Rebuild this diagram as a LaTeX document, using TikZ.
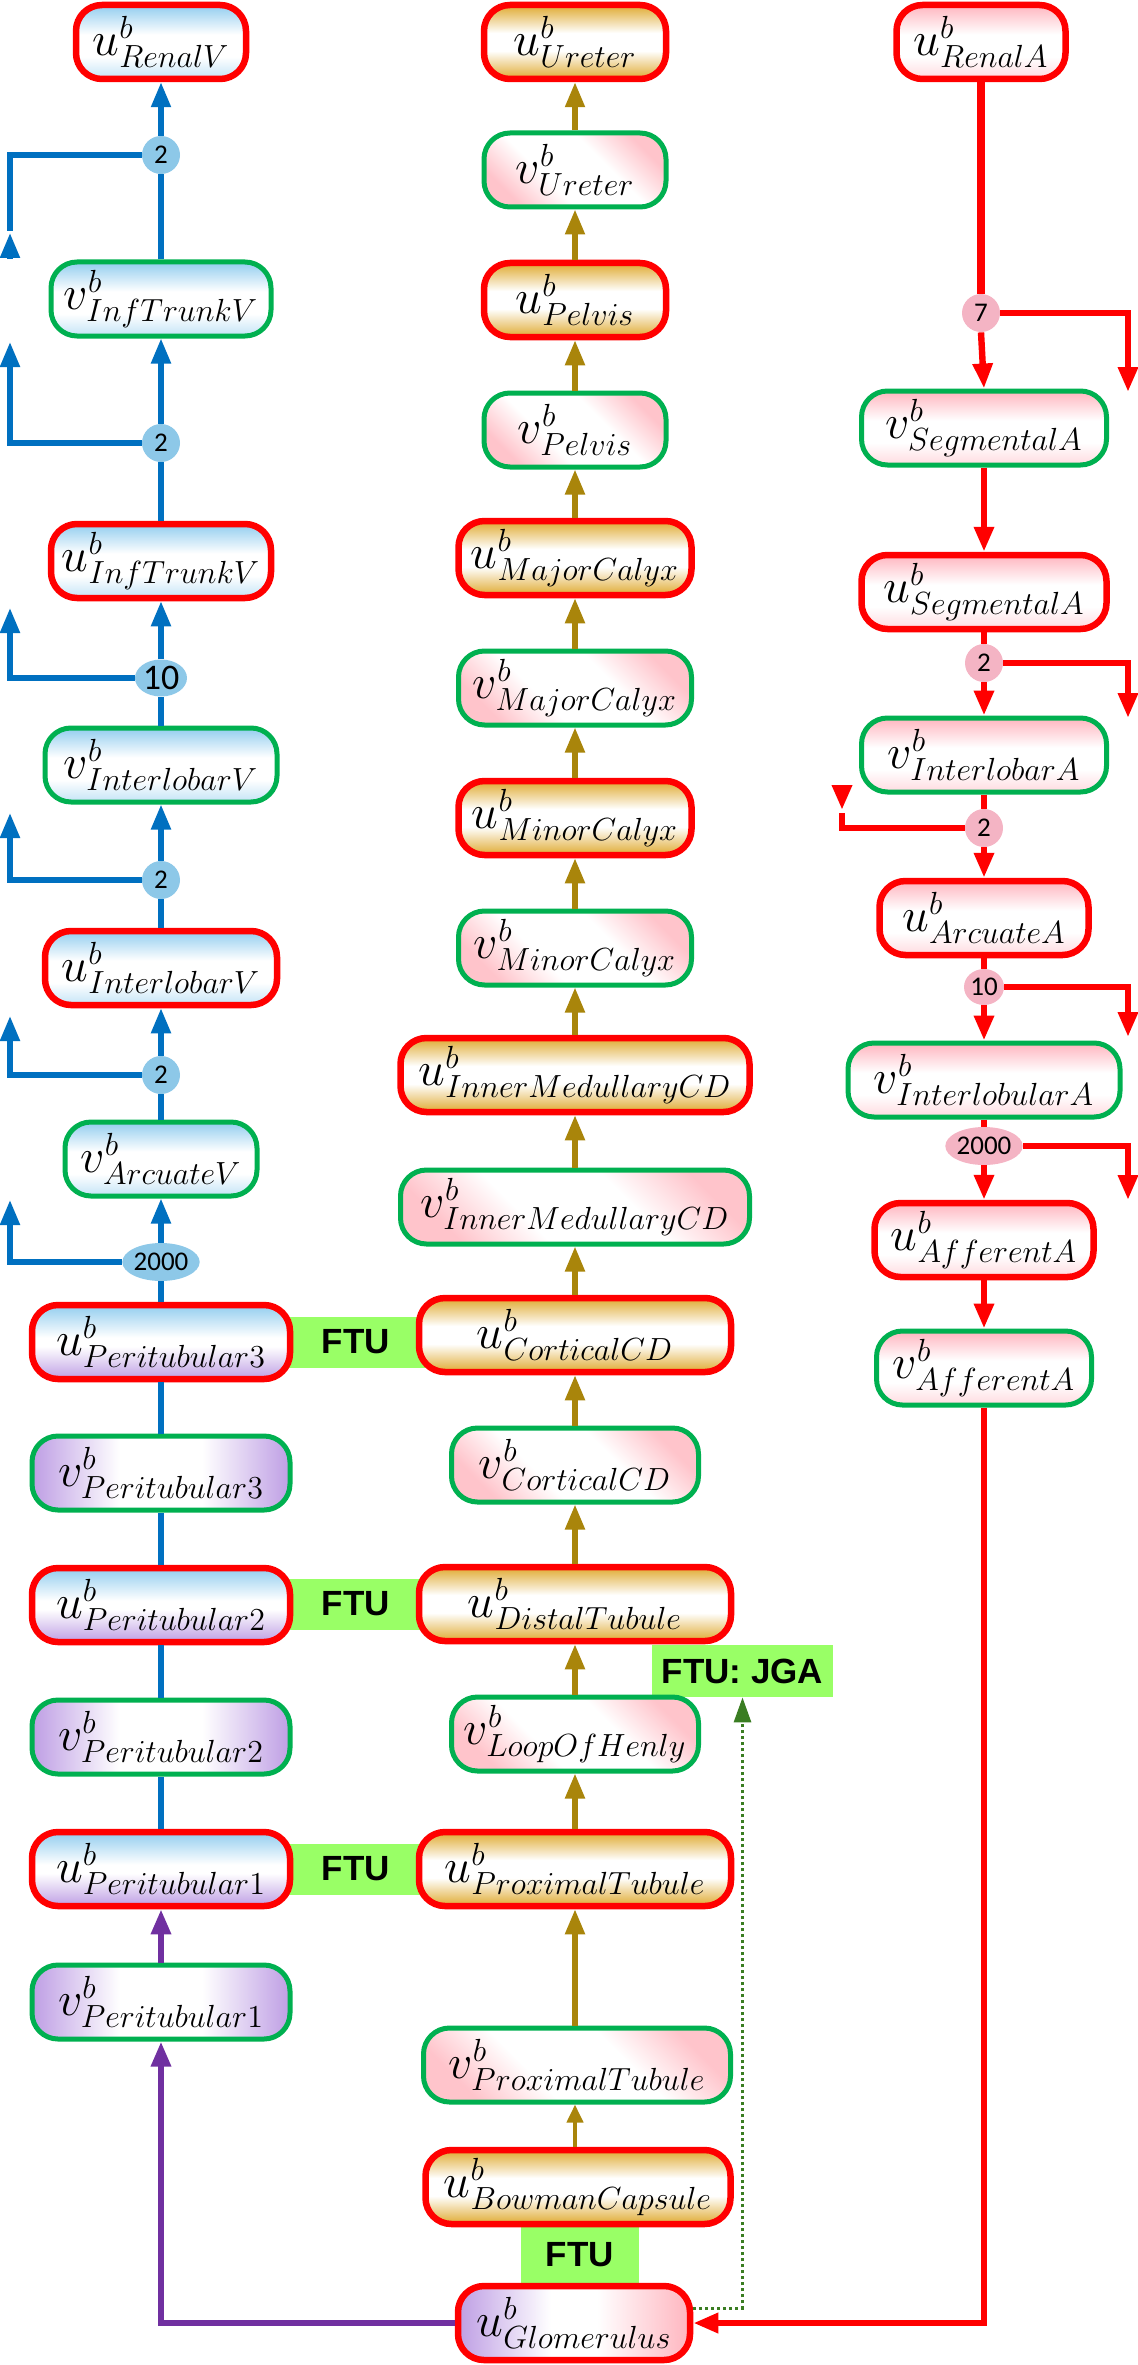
\RequirePackage{fix-cm}
\documentclass[tikz,border=0pt]{standalone}
\usepackage{fontspec}
\newfontfamily\carl{Carlito}
\newfontfamily\arialf{Liberation Sans}
\usetikzlibrary{shapes.geometric,arrows.meta}
\DeclareMathSizes{24}{24}{16}{12}
\definecolor{redc}{HTML}{FF0000}
\definecolor{greenc}{HTML}{00B050}
\definecolor{skyc}{HTML}{92CDEF}
\definecolor{jbluec}{HTML}{8DC8E8}
\definecolor{goldc}{HTML}{DFAA30}
\definecolor{goldl}{HTML}{A9850B}
\definecolor{purc}{HTML}{BE9EE4}
\definecolor{pinkc}{HTML}{FFB5BF}
\definecolor{pinkd}{HTML}{FFC4CB}
\definecolor{jpinkc}{HTML}{F4B4C4}
\definecolor{ftuc}{HTML}{99FF66}
\definecolor{bluec}{HTML}{0070C0}
\definecolor{purl}{HTML}{7030A0}
\definecolor{dgreen}{HTML}{3A7D22}
\pgfdeclareverticalshading{pinkdiag}{100bp}{color(0bp)=(pinkd); color(25bp)=(pinkd); color(40bp)=(white); color(60bp)=(white); color(75bp)=(pinkd); color(100bp)=(pinkd)}
\pgfdeclarehorizontalshading{purh}{100bp}{color(0bp)=(purc); color(25bp)=(purc); color(42bp)=(white); color(58bp)=(white); color(75bp)=(purc); color(100bp)=(purc)}
\pgfdeclarehorizontalshading{glomh}{100bp}{color(0bp)=(purc); color(25bp)=(purc); color(45bp)=(white); color(55bp)=(white); color(75bp)=(pinkc); color(100bp)=(pinkc)}
\pgfdeclareverticalshading{bluev}{100bp}{color(0bp)=(skyc!55); color(25bp)=(skyc!55); color(40bp)=(white); color(55bp)=(white); color(75bp)=(skyc); color(100bp)=(skyc)}
\pgfdeclareverticalshading{pinkv}{100bp}{color(0bp)=(pinkc!50); color(25bp)=(pinkc!50); color(40bp)=(white); color(55bp)=(white); color(75bp)=(pinkc); color(100bp)=(pinkc)}
\pgfdeclareverticalshading{periu}{100bp}{color(0bp)=(purc); color(25bp)=(purc); color(47bp)=(white); color(53bp)=(white); color(75bp)=(skyc); color(100bp)=(skyc)}
\pgfdeclareverticalshading{goldv}{100bp}{color(0bp)=(goldc); color(25bp)=(goldc); color(44bp)=(white); color(56bp)=(white); color(75bp)=(goldc); color(100bp)=(goldc)}
\newcommand{\labfs}{\fontsize{24}{28}\selectfont}
\newcommand{\junfs}{\carl\fontsize{13.5}{14}\selectfont}
\tikzset{
  box/.style={rounded corners=13pt, minimum height=37pt, inner sep=0pt, font=\labfs, text=black},
  ubox/.style={box, draw=redc, line width=3.25pt},
  vbox/.style={box, draw=greenc, line width=2.5pt},
  shblue/.style={shading=bluev},
  shgold/.style={shading=goldv},
  shpinkd/.style={shading=pinkdiag, shading angle=-45},
  shpinkv/.style={shading=pinkv},
  shperiu/.style={shading=periu},
  shperiv/.style={shading=purh},
  shglom/.style={shading=glomh},
  junb/.style={circle, fill=jbluec, inner sep=0pt, minimum size=19pt, font=\junfs},
  junr/.style={circle, fill=jpinkc, inner sep=0pt, minimum size=19pt, font=\junfs},
  ftu/.style={fill=ftuc, inner sep=0pt, font=\arialf\bfseries\fontsize{17.5}{18}\selectfont},
  tipA/.style={-{Triangle[width=9.5pt,length=12.5pt]}},
  bl/.style={draw=bluec, line width=2.6pt},
  bla/.style={bl, tipA},
  gla/.style={draw=goldl, line width=2.6pt, tipA},
  rl/.style={draw=redc, line width=3.2pt},
  rla/.style={rl, tipA},
  pla/.style={draw=purl, line width=3pt, tipA},
  dla/.style={draw=dgreen, line width=1.5pt, dash pattern=on 1.5pt off 1.5pt, -{Triangle[width=8.5pt,length=12.5pt]}}
}
\begin{document}
\begin{tikzpicture}[x=0.5pt,y=-0.5pt]
\useasboundingbox (0,0) rectangle (1138,2365);
% FTU bands (background)
\node[ftu, minimum width=70pt, minimum height=25.5pt] (f3) at (356,1342) {FTU};
\node[ftu, minimum width=70pt, minimum height=25.5pt] (f2) at (356,1604) {FTU};
\node[ftu, minimum width=70pt, minimum height=25.5pt] (f1) at (356,1869) {FTU};
\node[ftu, minimum width=90.5pt, minimum height=26pt] (jga) at (742.5,1671) {FTU: JGA};
\node[ftu, minimum width=59pt, minimum height=30pt] (fg) at (580,2255) {FTU};
% left column
\node[ubox, shblue, minimum width=85pt] (uRV) at (161,42) {$u^{b}_{RenalV}$};
\node[junb] (c1) at (161,155) {2};
\node[vbox, shblue, minimum width=110pt] (vIT) at (161,299) {$v^{b}_{InfTrunkV}$};
\node[junb] (c2) at (161,443) {2};
\node[ubox, shblue, minimum width=110pt] (uIT) at (161,561) {$u^{b}_{InfTrunkV}$};
\node[junb, ellipse, minimum width=26pt, minimum height=18.5pt, font=\carl\fontsize{18}{18}\selectfont] (c3) at (161,678) {10};
\node[vbox, shblue, minimum width=116pt] (vIL) at (161,765) {$v^{b}_{InterlobarV}$};
\node[junb] (c4) at (161,880) {2};
\node[ubox, shblue, minimum width=116pt] (uIL) at (161,968) {$u^{b}_{InterlobarV}$};
\node[junb] (c5) at (161,1075) {2};
\node[vbox, shblue, minimum width=96pt] (vAV) at (161,1159) {$v^{b}_{ArcuateV}$};
\node[junb, ellipse, minimum width=38pt, minimum height=19pt] (c6) at (161,1262) {2000};
\node[ubox, shperiu, minimum width=129pt] (uP3) at (161,1342) {$u^{b}_{Peritubular3}$};
\node[vbox, shperiv, minimum width=129pt] (vP3) at (161,1473) {$v^{b}_{Peritubular3}$};
\node[ubox, shperiu, minimum width=129pt] (uP2) at (161,1605) {$u^{b}_{Peritubular2}$};
\node[vbox, shperiv, minimum width=129pt] (vP2) at (161,1737) {$v^{b}_{Peritubular2}$};
\node[ubox, shperiu, minimum width=129pt] (uP1) at (161,1869) {$u^{b}_{Peritubular1}$};
\node[vbox, shperiv, minimum width=129pt] (vP1) at (161,2002) {$v^{b}_{Peritubular1}$};
% middle column
\node[ubox, shgold, minimum width=91pt] (uUr) at (575,42) {$u^{b}_{Ureter}$};
\node[vbox, shpinkd, minimum width=91pt] (vUr) at (575,170) {$v^{b}_{Ureter}$};
\node[ubox, shgold, minimum width=91pt] (uPe) at (575,300) {$u^{b}_{Pelvis}$};
\node[vbox, shpinkd, minimum width=91pt] (vPe) at (575,430) {$v^{b}_{Pelvis}$};
\node[ubox, shgold, minimum width=116.5pt] (uMa) at (575,558) {$u^{b}_{MajorCalyx}$};
\node[vbox, shpinkd, minimum width=116.5pt] (vMa) at (575,688) {$v^{b}_{MajorCalyx}$};
\node[ubox, shgold, minimum width=116.5pt] (uMi) at (575,818) {$u^{b}_{MinorCalyx}$};
\node[vbox, shpinkd, minimum width=116.5pt] (vMi) at (575,948) {$v^{b}_{MinorCalyx}$};
\node[ubox, shgold, minimum width=174.5pt] (uIM) at (575,1075) {$u^{b}_{InnerMedullaryCD}$};
\node[vbox, shpinkd, minimum width=174.5pt] (vIM) at (575,1207) {$v^{b}_{InnerMedullaryCD}$};
\node[ubox, shgold, minimum width=156pt] (uCC) at (575,1335) {$u^{b}_{CorticalCD}$};
\node[vbox, shpinkd, minimum width=123.5pt] (vCC) at (575,1465) {$v^{b}_{CorticalCD}$};
\node[ubox, shgold, minimum width=156pt] (uDT) at (575,1604) {$u^{b}_{DistalTubule}$};
\node[vbox, shpinkd, minimum width=123.5pt] (vLH) at (575,1734) {$v^{b}_{LoopOfHenly}$};
\node[ubox, shgold, minimum width=156pt] (uPT) at (575,1869) {$u^{b}_{ProximalTubule}$};
\node[vbox, shpinkd, minimum width=153.5pt] (vPT) at (577,2065) {$v^{b}_{ProximalTubule}$};
\node[ubox, shgold, minimum width=152.5pt] (uBC) at (578,2187) {$u^{b}_{BowmanCapsule}$};
\node[ubox, shglom, minimum width=116pt] (glom) at (574,2323) {$u^{b}_{Glomerulus}$};
% right column
\node[ubox, shpinkv, minimum width=84.5pt] (uRA) at (981,42) {$u^{b}_{RenalA}$};
\node[junr] (r1) at (981,313) {7};
\node[vbox, shpinkv, minimum width=122.5pt] (vSA) at (984,428) {$v^{b}_{SegmentalA}$};
\node[ubox, shpinkv, minimum width=122.5pt] (uSA) at (984,592) {$u^{b}_{SegmentalA}$};
\node[junr] (r2) at (984,663) {2};
\node[vbox, shpinkv, minimum width=122.5pt] (vIA) at (984,755) {$v^{b}_{InterlobarA}$};
\node[junr] (r3) at (984,828) {2};
\node[ubox, shpinkv, minimum width=104.5pt] (uAA) at (984,918) {$u^{b}_{ArcuateA}$};
\node[junr, ellipse, minimum width=20pt, minimum height=18pt] (r4) at (984,987) {10};
\node[vbox, shpinkv, minimum width=136pt] (vILA) at (984,1080) {$v^{b}_{InterlobularA}$};
\node[junr, ellipse, minimum width=38pt, minimum height=19pt] (r5) at (984,1146) {2000};
\node[ubox, shpinkv, minimum width=109.5pt] (uAf) at (984,1240) {$u^{b}_{AfferentA}$};
\node[vbox, shpinkv, minimum width=107.5pt] (vAf) at (984,1368) {$v^{b}_{AfferentA}$};
% free ends
\coordinate (b1) at (10,231);
\coordinate (b1s) at (10,259);
\coordinate (b1t) at (10,233);
\coordinate (b2) at (10,342);
\coordinate (b3) at (10,608);
\coordinate (b4) at (10,813);
\coordinate (b5) at (10,1016);
\coordinate (b6) at (10,1200);
\coordinate (e1) at (1128,392);
\coordinate (e2) at (1128,718);
\coordinate (e3) at (842,813);
\coordinate (e3s) at (842,785);
\coordinate (e3t) at (842,810);
\coordinate (e4) at (1128,1037);
\coordinate (e5) at (1128,1200);
% left connectors
\draw[bl] (vIT.north) -- (c1.south);
\draw[bla] (c1.north) -- (uRV.south);
\draw[bl] (c1.west) -| (b1);
\draw[bla] (b1s) -- (b1t);
\draw[bl] (uIT.north) -- (c2.south);
\draw[bla] (c2.north) -- (vIT.south);
\draw[bla] (c2.west) -| (b2);
\draw[bl] (vIL.north) -- (c3.south);
\draw[bla] (c3.north) -- (uIT.south);
\draw[bla] (c3.west) -| (b3);
\draw[bl] (uIL.north) -- (c4.south);
\draw[bla] (c4.north) -- (vIL.south);
\draw[bla] (c4.west) -| (b4);
\draw[bl] (vAV.north) -- (c5.south);
\draw[bla] (c5.north) -- (uIL.south);
\draw[bla] (c5.west) -| (b5);
\draw[bl] (uP3.north) -- (c6.south);
\draw[bla] (c6.north) -- (vAV.south);
\draw[bla] (c6.west) -| (b6);
\draw[bl] (vP3.north) -- (uP3.south);
\draw[bl] (uP2.north) -- (vP3.south);
\draw[bl] (vP2.north) -- (uP2.south);
\draw[bl] (uP1.north) -- (vP2.south);
\draw[pla] (vP1.north) -- (uP1.south);
\draw[pla] (glom.west) -| (vP1.south);
% middle connectors
\draw[gla] (vUr.north) -- (uUr.south);
\draw[gla] (uPe.north) -- (vUr.south);
\draw[gla] (vPe.north) -- (uPe.south);
\draw[gla] (uMa.north) -- (vPe.south);
\draw[gla] (vMa.north) -- (uMa.south);
\draw[gla] (uMi.north) -- (vMa.south);
\draw[gla] (vMi.north) -- (uMi.south);
\draw[gla] (uIM.north) -- (vMi.south);
\draw[gla] (vIM.north) -- (uIM.south);
\draw[gla] (uCC.north) -- (vIM.south);
\draw[gla] (vCC.north) -- (uCC.south);
\draw[gla] (uDT.north) -- (vCC.south);
\draw[gla] (vLH.north) -- (uDT.south);
\draw[gla] (uPT.north) -- (vLH.south);
\draw[gla] (vPT.north -| uPT.south) -- (uPT.south);
\draw[draw=goldl, line width=2pt, -{Triangle[width=8pt,length=9pt]}] (uBC.north -| uPT.south) -- (vPT.south -| uPT.south);
\draw[dla] ([yshift=7.5pt]glom.east) -| (jga.south);
% right connectors
\draw[draw=redc, line width=4pt] (uRA.south) -- (r1.north);
\draw[rla] (r1.south) -- (vSA.north);
\draw[rla] (r1.east) -| (e1);
\draw[rla] (vSA.south) -- (uSA.north);
\draw[rl] (uSA.south) -- (r2.north);
\draw[rla] (r2.south) -- (vIA.north);
\draw[rla] (r2.east) -| (e2);
\draw[rl] (vIA.south) -- (r3.north);
\draw[rla] (r3.south) -- (uAA.north);
\draw[rl] (r3.west) -| (e3);
\draw[rla] (e3s) -- (e3t);
\draw[rl] (uAA.south) -- (r4.north);
\draw[rla] (r4.south) -- (vILA.north);
\draw[rla] (r4.east) -| (e4);
\draw[rl] (vILA.south) -- (r5.north);
\draw[rla] (r5.south) -- (uAf.north);
\draw[rla] (r5.east) -| (e5);
\draw[rla] (uAf.south) -- (vAf.north);
\draw[rla] (vAf.south) |- (glom.east);
\end{tikzpicture}
\end{document}
